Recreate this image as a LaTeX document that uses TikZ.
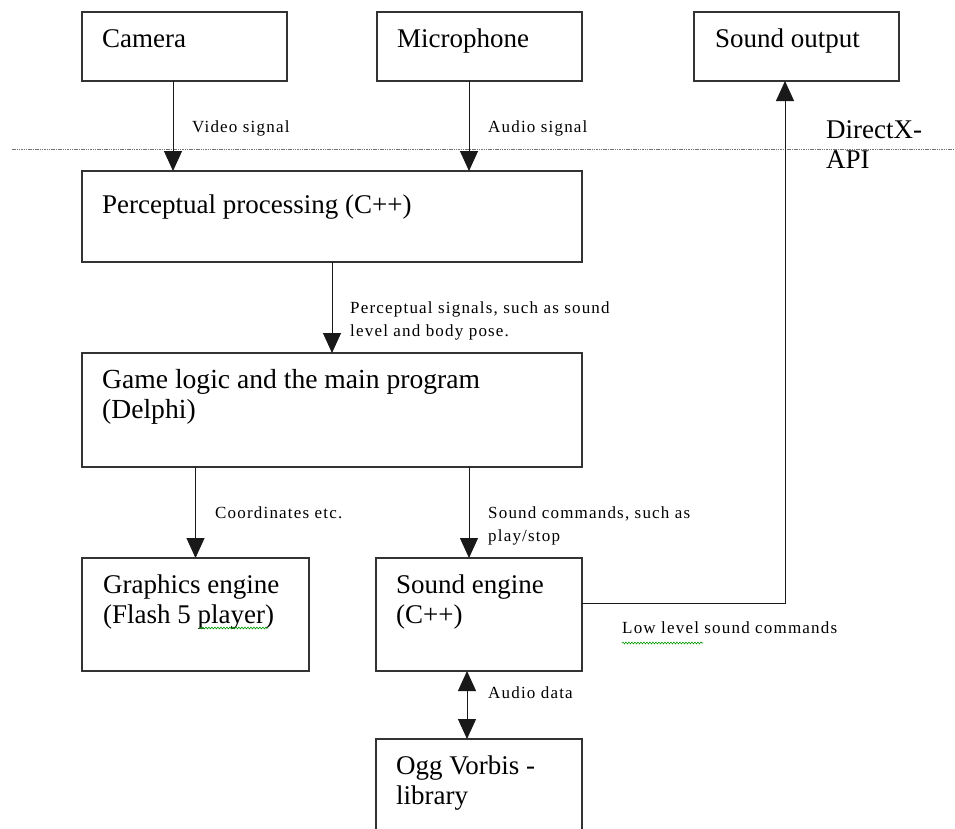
\documentclass[tikz,border=0pt]{standalone}
\usepackage{fontspec}
\setmainfont{Liberation Serif}
\newfontfamily\notefamily[LetterSpace=7]{Liberation Serif}
\usetikzlibrary{arrows.meta,decorations.pathmorphing}
\newcommand{\titlefont}{\fontsize{27}{30}\selectfont}
\newcommand{\notefont}{\notefamily\fontsize{17}{23}\selectfont}

\begin{document}
\begin{tikzpicture}[
    x=1pt, y=-1pt,
    block/.style={
      rectangle, draw=black!80, line width=1.1pt,
      anchor=north west, inner sep=0pt, outer sep=0pt
    },
    % multi-line texts sit on the baseline of their last line
    title/.style={anchor=base west, inner sep=0pt, align=left, font=\titlefont},
    note/.style={anchor=base west, inner sep=0pt, align=left, font=\notefont},
    tip/.tip={Triangle[width=18pt, length=20pt]},
    arrow/.style={-tip, line width=1pt, draw=black!90},
    dualarrow/.style={tip-tip, line width=1pt, draw=black!90},
    dotline/.style={draw=black!55, line width=1pt, dash pattern=on 1.5pt off 0.8pt},
    squiggle/.style={draw=green!60!black, line width=0.6pt, decorate,
      decoration={snake, amplitude=0.9pt, segment length=3pt}},
  ]
  \clip (0,0) rectangle (955,828);
  \fill[white] (0,0) rectangle (955,828);

  % Top row: devices
  \node[block, minimum width=205pt, minimum height=69pt] (camera)   at (82,12)  {};
  \node[block, minimum width=205pt, minimum height=69pt] (mic)      at (377,12) {};
  \node[block, minimum width=205pt, minimum height=69pt] (soundout) at (694,12) {};

  % API border
  \draw[dotline] (12,149) -- (955,149);
  \node[title] (directx) at (826,168) {DirectX-\\API};

  % Processing chain
  \node[block, minimum width=500pt, minimum height=91pt]  (percept) at (82,171) {};
  \node[block, minimum width=500pt, minimum height=114pt] (game)    at (82,353) {};

  % Bottom row (engines and library, last box runs off the page)
  \node[block, minimum width=227pt, minimum height=113pt] (graphics) at (82,558)  {};
  \node[block, minimum width=206pt, minimum height=113pt] (sound)    at (376,558) {};
  \node[block, minimum width=206pt, minimum height=111pt] (ogg)      at (376,739) {};

  % Box titles
  \node[title] at ([shift={(20pt,-35pt)}]camera.north west)   {Camera};
  \node[title] at ([shift={(20pt,-35pt)}]mic.north west)      {Microphone};
  \node[title] at ([shift={(21pt,-35pt)}]soundout.north west) {Sound output};
  \node[title] at ([shift={(20pt,-42pt)}]percept.north west)  {Perceptual processing (C++)};
  \node[title, font=\fontsize{27.6}{30}\selectfont]
               at ([shift={(20pt,-65pt)}]game.north west)     {Game logic and the main program\\(Delphi)};
  \node[title] at ([shift={(21pt,-65pt)}]graphics.north west) {Graphics engine\\(Flash 5 player)};
  \node[title] at ([shift={(20pt,-65pt)}]sound.north west)    {Sound engine\\(C++)};
  \node[title] at ([shift={(20pt,-65pt)}]ogg.north west)      {Ogg Vorbis -\\library};

  % Connectors
  \draw[arrow] ([xshift=-11.5pt]camera.south) -- ([xshift=-11.5pt]camera.south |- percept.north);
  \draw[arrow] ([xshift=-10.5pt]mic.south) -- ([xshift=-10.5pt]mic.south |- percept.north);
  \draw[arrow] (percept.south) -- (game.north);
  \draw[arrow] (game.south -| graphics.north) -- (graphics.north);
  \draw[arrow] ([xshift=-10pt]sound.north |- game.south) -- ([xshift=-10pt]sound.north);
  \draw[dualarrow] ([xshift=-12pt]sound.south) -- ([xshift=-12pt]sound.south |- ogg.north);
  \draw[arrow] ([yshift=11.5pt]sound.east) -| ([xshift=-11.5pt]soundout.south);

  % Connector labels
  \node[note] (video)     at (192,132) {Video signal};
  \node[note] (audio)     at (488,132) {Audio signal};
  \node[note] (percsig)   at (350,336) {Perceptual signals, such as sound\\level and body pose.};
  \node[note] (coords)    at (215,518) {Coordinates etc.};
  \node[note] (sndcmd)    at (488,541) {Sound commands, such as\\play/stop};
  \node[note] (lowlevel)  at (622,633) {Low level sound commands};
  \node[note] (audiodata) at (488,698) {Audio data};

  % spell-check marks
  \draw[squiggle] (199,628) -- (268,628);
  \draw[squiggle] (622,643) -- (703,643);

\end{tikzpicture}
\end{document}
